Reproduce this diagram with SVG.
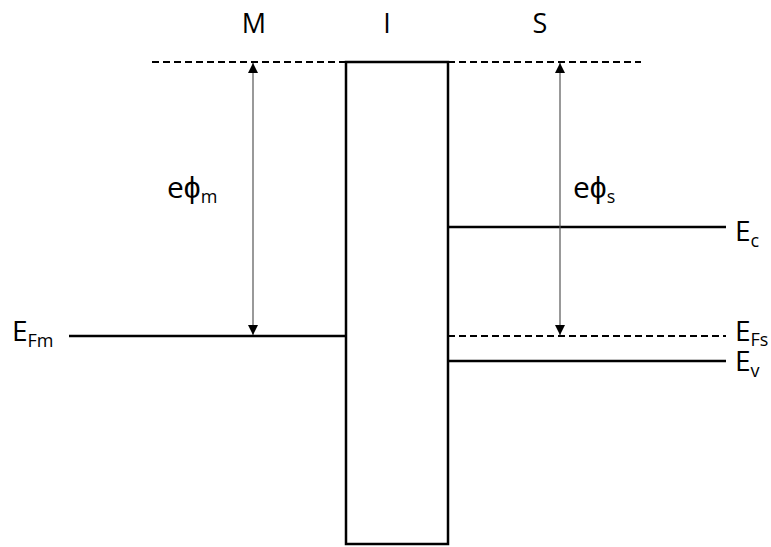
<svg xmlns="http://www.w3.org/2000/svg" width="771" height="547" viewBox="0 0 771 547">
<style>
text{font-family:"Open Sans","Liberation Sans",sans-serif;fill:#000}
.lbl{font-size:27px}
.big{font-size:28px}
.phi{font-size:30px}
.sub{font-size:18px}
.solid{stroke:#000;stroke-width:2.5;fill:none}
.dash{stroke:#000;stroke-width:2.2;stroke-dasharray:7,4;fill:none}
.arr{stroke:#555;stroke-width:1.2;fill:none;marker-start:url(#ah);marker-end:url(#ah)}
</style>
<defs>
<marker id="ah" viewBox="0 0 10 10" refX="10" refY="5" markerWidth="11" markerHeight="10" markerUnits="userSpaceOnUse" orient="auto-start-reverse">
<path d="M0,0 L10,5 L0,10 z" fill="#000"/>
</marker>
</defs>
<rect fill="#fff" width="771" height="547"/>
<g id="labels">
<text class="lbl" x="254" y="33" text-anchor="middle">M</text>
<text class="lbl" x="387" y="33" text-anchor="middle">I</text>
<text class="lbl" x="540" y="33" text-anchor="middle">S</text>
</g>
<g id="insulator">
<rect x="346" y="62" width="102" height="482" class="solid" stroke-width="2.7"/>
</g>
<g id="levels">
<line x1="152" y1="62" x2="346" y2="62" class="dash"/>
<line x1="448" y1="62" x2="641" y2="62" class="dash"/>
<line x1="69" y1="336" x2="346" y2="336" class="solid"/>
<line x1="448" y1="227" x2="726" y2="227" class="solid"/>
<line x1="448" y1="336" x2="726" y2="336" class="dash"/>
<line x1="448" y1="361" x2="726" y2="361" class="solid"/>
</g>
<g id="connectors">
<line x1="253" y1="63" x2="253" y2="335" class="arr"/>
<line x1="560" y1="63" x2="560" y2="335" class="arr"/>
</g>
<g id="phi-m"><text class="phi" x="167" y="198">eϕ<tspan class="sub" dy="5">m</tspan></text></g>
<g id="phi-s"><text class="phi" x="573" y="198">eϕ<tspan class="sub" dy="5">s</tspan></text></g>
<g id="Ec"><text class="big" x="735" y="241">E<tspan class="sub" dy="6">c</tspan></text></g>
<g id="EFm"><text class="big" x="12" y="341">E<tspan class="sub" dy="6">Fm</tspan></text></g>
<g id="EFs"><text class="big" x="735" y="341">E<tspan class="sub" dy="5">Fs</tspan></text></g>
<g id="Ev"><text class="big" x="735" y="371">E<tspan class="sub" dy="6">v</tspan></text></g>
</svg>
